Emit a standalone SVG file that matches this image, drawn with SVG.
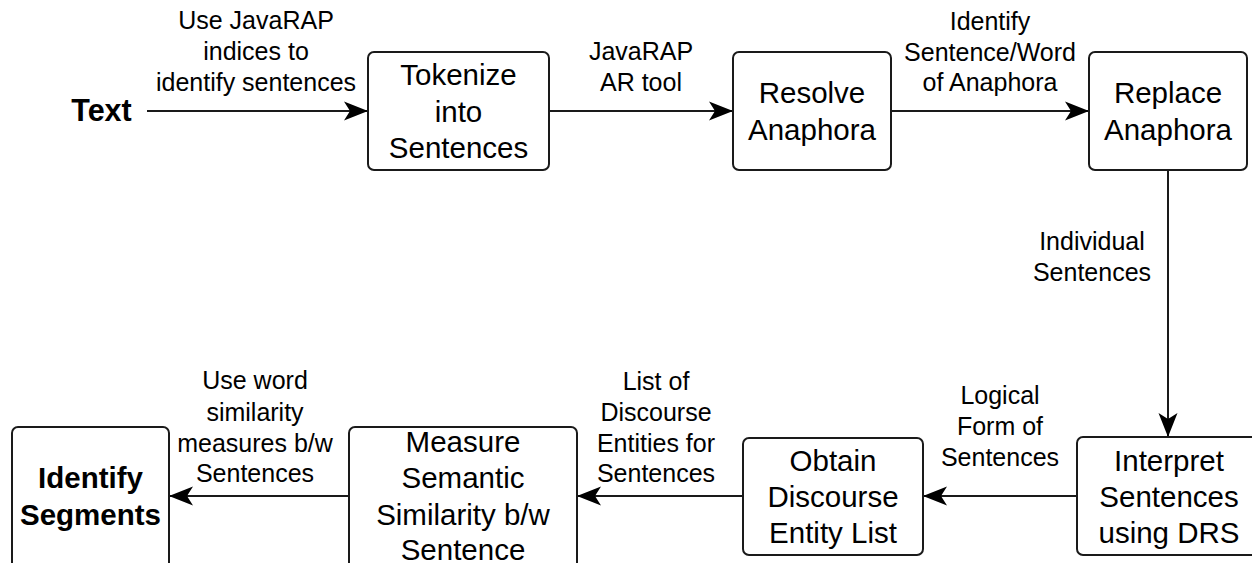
<svg xmlns="http://www.w3.org/2000/svg" width="1252" height="563" viewBox="0 0 1252 563">
<style>
.box{fill:#fff;stroke:#1a1a1a;stroke-width:2}
.nt{font-family:"Liberation Sans",Arial,sans-serif;font-size:29.5px;fill:#000;text-anchor:middle}
.b{font-weight:bold}
.lb{font-family:"Liberation Sans",Arial,sans-serif;font-size:25px;fill:#000;text-anchor:middle}
.cn{fill:none;stroke:#1a1a1a;stroke-width:2}
</style>
<defs>
<marker id="ah" markerUnits="userSpaceOnUse" markerWidth="26" markerHeight="22" refX="24" refY="10" orient="auto" viewBox="0 0 26 22">
<path d="M0,0.5 L24,10 L0,19.5 L6,10 Z" fill="#000"/>
</marker>
</defs>
<g id="connectors">
<line class="cn" x1="147" y1="111" x2="368" y2="111" marker-end="url(#ah)"/>
<line class="cn" x1="549" y1="111" x2="733" y2="111" marker-end="url(#ah)"/>
<line class="cn" x1="891" y1="111" x2="1089" y2="111" marker-end="url(#ah)"/>
<line class="cn" x1="1168" y1="170" x2="1168" y2="437" marker-end="url(#ah)"/>
<line class="cn" x1="1077" y1="496" x2="923" y2="496" marker-end="url(#ah)"/>
<line class="cn" x1="743" y1="496" x2="577" y2="496" marker-end="url(#ah)"/>
<line class="cn" x1="349" y1="496" x2="169" y2="496" marker-end="url(#ah)"/>
<text class="lb"><tspan x="256" y="29">Use JavaRAP</tspan><tspan x="256" y="60">indices to</tspan><tspan x="256" y="91">identify sentences</tspan></text>
<text class="lb"><tspan x="641" y="60">JavaRAP</tspan><tspan x="641" y="91">AR tool</tspan></text>
<text class="lb"><tspan x="990" y="30">Identify</tspan><tspan x="990" y="61">Sentence/Word</tspan><tspan x="990" y="91">of Anaphora</tspan></text>
<text class="lb"><tspan x="1092" y="250">Individual</tspan><tspan x="1092" y="281">Sentences</tspan></text>
<text class="lb"><tspan x="1000" y="404">Logical</tspan><tspan x="1000" y="435">Form of</tspan><tspan x="1000" y="466">Sentences</tspan></text>
<text class="lb"><tspan x="656" y="390">List of</tspan><tspan x="656" y="421">Discourse</tspan><tspan x="656" y="452">Entities for</tspan><tspan x="656" y="482">Sentences</tspan></text>
<text class="lb"><tspan x="255" y="389">Use word</tspan><tspan x="255" y="421">similarity</tspan><tspan x="255" y="452">measures b/w</tspan><tspan x="255" y="482">Sentences</tspan></text>
</g>
<g id="text-start">
<text class="nt b" x="101.5" y="121" style="font-size:30.5px">Text</text>
</g>
<g id="tokenize">
<rect class="box" x="368" y="52" width="181" height="118" rx="6"/>
<text class="nt"><tspan x="458.5" y="85">Tokenize</tspan><tspan x="458.5" y="121.5">into</tspan><tspan x="458.5" y="158">Sentences</tspan></text>
</g>
<g id="resolve">
<rect class="box" x="733" y="52" width="158" height="118" rx="6"/>
<text class="nt"><tspan x="812" y="103">Resolve</tspan><tspan x="812" y="139.5">Anaphora</tspan></text>
</g>
<g id="replace">
<rect class="box" x="1089" y="52" width="158" height="118" rx="6"/>
<text class="nt"><tspan x="1168" y="103">Replace</tspan><tspan x="1168" y="139.5">Anaphora</tspan></text>
</g>
<g id="interpret">
<rect class="box" x="1077" y="437" width="184" height="118" rx="6"/>
<text class="nt"><tspan x="1169" y="471">Interpret</tspan><tspan x="1169" y="507">Sentences</tspan><tspan x="1169" y="543">using DRS</tspan></text>
</g>
<g id="obtain">
<rect class="box" x="743" y="438" width="180" height="117" rx="6"/>
<text class="nt"><tspan x="833" y="471">Obtain</tspan><tspan x="833" y="507">Discourse</tspan><tspan x="833" y="543">Entity List</tspan></text>
</g>
<g id="measure">
<rect class="box" x="349" y="427" width="228" height="150" rx="6"/>
<text class="nt"><tspan x="463" y="452">Measure</tspan><tspan x="463" y="488">Semantic</tspan><tspan x="463" y="524.5">Similarity b/w</tspan><tspan x="463" y="559.5">Sentence</tspan></text>
</g>
<g id="identify">
<rect class="box" x="12" y="427" width="157" height="150" rx="6"/>
<text class="nt b"><tspan x="90.5" y="488">Identify</tspan><tspan x="90.5" y="524.5">Segments</tspan></text>
</g>
</svg>
